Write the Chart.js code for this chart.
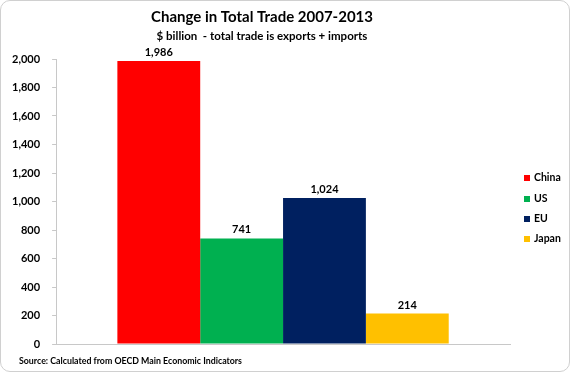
<!DOCTYPE html>
<html><head><meta charset="utf-8">
<script src="https://cdn.jsdelivr.net/npm/chart.js@4"></script>
<style>
html,body{margin:0;padding:0;background:#fff;}
#wrap{position:absolute;left:0;top:0;width:568px;height:370px;border:1px solid #d0d0d0;border-radius:10px;overflow:hidden;background:#fff;}
canvas{display:block;}
</style></head><body>
<div id="wrap"><canvas id="c" width="568" height="370"></canvas></div>
<script>
const categories = [''];
const seriesNames = ['China', 'US', 'EU', 'Japan'];
const seriesValues = [1986, 741, 1024, 214];
const seriesColors = ['#ff0000', '#00b050', '#002060', '#ffc000'];
const yTicks = [0, 200, 400, 600, 800, 1000, 1200, 1400, 1600, 1800, 2000];
const titleText = 'Change in Total Trade 2007-2013';
const subtitleText = '$ billion  - total trade is exports + imports';
const sourceText = 'Source: Calculated from OECD Main Economic Indicators';

const FONT = 'Lato, "Open Sans", sans-serif';
const fmt = v => v.toLocaleString('en-US');

const labelPlugin = {
  id: 'vlabels',
  afterDatasetsDraw(chart) {
    const ctx = chart.ctx;
    ctx.save();
    ctx.font = 'bold 11px ' + FONT;
    ctx.fillStyle = '#000';
    ctx.textAlign = 'center';
    ctx.textBaseline = 'bottom';
    chart.data.datasets.forEach((ds, i) => {
      const meta = chart.getDatasetMeta(i);
      meta.data.forEach((bar, j) => {
        ctx.fillText(fmt(ds.data[j]), bar.x, bar.y - 3);
      });
    });
    ctx.restore();
  }
};
const decorPlugin = {
  id: 'decor',
  afterDraw(chart) {
    const ctx = chart.ctx;
    ctx.save();
    ctx.fillStyle = '#000';
    ctx.textBaseline = 'middle';
    ctx.textAlign = 'center';
    ctx.font = 'bold 15px ' + FONT;
    ctx.fillText(titleText, 261, 16);
    ctx.font = 'bold 11.5px ' + FONT;
    ctx.fillText(subtitleText, 261, 35);
    ctx.textAlign = 'left';
    ctx.font = 'bold 8.8px ' + FONT;
    ctx.fillText(sourceText, 18, 360);
    // legend
    ctx.font = 'bold 10.5px ' + FONT;
    const ys = [177, 198, 218, 238];
    chart.data.datasets.forEach((ds, i) => {
      ctx.fillStyle = ds.backgroundColor;
      ctx.fillRect(523, ys[i] - 3, 6, 6);
      ctx.fillStyle = '#000';
      ctx.fillText(ds.label, 533, ys[i]);
    });
    ctx.restore();
  }
};

new Chart(document.getElementById('c'), {
  type: 'bar',
  data: {
    labels: categories,
    datasets: seriesNames.map((n, i) => ({
      label: n,
      data: [seriesValues[i]],
      backgroundColor: seriesColors[i],
      borderWidth: 0,
      barPercentage: 1.0,
      categoryPercentage: 0.73
    }))
  },
  options: {
    responsive: false,
    animation: false,
    devicePixelRatio: 1,
    layout: { padding: { left: -1, right: 59, top: 58, bottom: 27 } },
    plugins: {
      title: { display: false },
      legend: { display: false },
      tooltip: { enabled: false }
    },
    scales: {
      x: {
        grid: { display: false, drawTicks: false },
        border: { display: true, color: '#c8c8c8', width: 1 },
        ticks: { display: false }
      },
      y: {
        min: 0, max: 2000,
        afterBuildTicks(axis) { axis.ticks = yTicks.map(v => ({ value: v })); },
        grid: { display: true, drawOnChartArea: false, drawTicks: true, tickLength: 4, color: '#c8c8c8' },
        border: { display: true, color: '#c8c8c8', width: 1 },
        ticks: {
          font: { family: FONT, size: 11, weight: 'bold' }, color: '#000', padding: 12,
          callback: v => fmt(v)
        }
      }
    }
  },
  plugins: [labelPlugin, decorPlugin]
});
</script>
</body></html>
